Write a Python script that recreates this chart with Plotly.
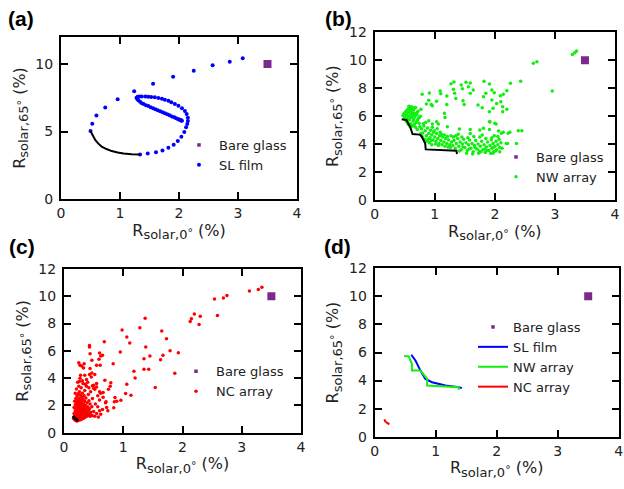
import plotly.graph_objects as go

# ---------------- data ----------------
bare_glass_x = [3.5]
bare_glass_y = [10.0]

# (a) SL film
sl_x = [3.08, 2.86, 2.57, 2.25, 1.90, 1.56, 1.24, 0.96, 0.75, 0.60, 0.53, 0.50,
        1.34, 1.47, 1.61, 1.72, 1.82, 1.91, 1.98, 2.04, 2.09, 2.12, 2.14, 2.15,
        2.15, 2.13, 2.10, 2.05, 1.99, 1.93, 1.87, 1.82, 1.76, 1.71, 1.65, 1.59,
        1.53, 1.48, 1.43, 1.37, 1.33, 1.30, 1.28, 1.29, 1.31, 1.34, 1.37, 1.40,
        1.44, 1.48, 1.52, 1.56, 1.60, 1.64, 1.68, 1.72, 1.76, 1.80, 1.84, 1.88,
        1.92, 1.95, 1.98, 2.00, 2.02, 2.03, 2.04, 2.05]
sl_y = [10.42, 10.17, 9.90, 9.50, 9.06, 8.54, 7.99, 7.39, 6.77, 6.18, 5.58, 5.04,
        3.30, 3.37, 3.47, 3.60, 3.80, 4.02, 4.29, 4.62, 4.96, 5.31, 5.55, 5.78,
        6.02, 6.30, 6.52, 6.72, 6.90, 7.04, 7.17, 7.27, 7.36, 7.43, 7.48, 7.53,
        7.56, 7.58, 7.59, 7.59, 7.59, 7.57, 7.50, 7.42, 7.32, 7.20, 7.10, 7.03,
        6.95, 6.88, 6.80, 6.73, 6.65, 6.57, 6.50, 6.42, 6.35, 6.27, 6.20, 6.12,
        6.05, 5.99, 5.93, 5.89, 5.85, 5.83, 5.81, 5.80]
sl_front_x = [0.50, 0.52, 0.55, 0.58, 0.63, 0.69, 0.77, 0.86, 0.96, 1.06, 1.20, 1.34]
sl_front_y = [5.04, 4.86, 4.60, 4.37, 4.12, 3.87, 3.70, 3.55, 3.45, 3.37, 3.32, 3.30]

# (b) NW array
nw_cluster = [(0.47, 6.05), (0.49, 6.20), (0.50, 5.95), (0.52, 6.35), (0.53, 6.10), (0.54, 5.85),
              (0.55, 6.50), (0.56, 6.25), (0.57, 6.00), (0.58, 6.60), (0.58, 5.75), (0.59, 6.40),
              (0.60, 6.15), (0.61, 5.90), (0.62, 6.55), (0.62, 6.30), (0.63, 6.05), (0.64, 5.65),
              (0.65, 6.45), (0.65, 5.80), (0.66, 6.20), (0.67, 5.95), (0.68, 6.62), (0.69, 5.55),
              (0.70, 6.10), (0.71, 5.70), (0.72, 6.35), (0.52, 5.70), (0.55, 5.55), (0.60, 5.45),
              (0.63, 5.30), (0.66, 5.40), (0.68, 5.20), (0.71, 5.05), (0.74, 5.50), (0.75, 5.25),
              (0.57, 6.70), (0.61, 6.68), (0.64, 6.60), (0.50, 5.80), (0.53, 5.60), (0.56, 5.40),
              (0.59, 5.25), (0.73, 5.85), (0.76, 6.00)]
nw_band = [(0.78, 5.10), (0.80, 4.80), (0.82, 5.30), (0.84, 4.95), (0.86, 4.60), (0.88, 5.15),
           (0.90, 4.75), (0.92, 4.45), (0.93, 5.00), (0.95, 4.65), (0.97, 4.30), (0.98, 4.85),
           (1.00, 4.50), (1.02, 4.20), (1.03, 4.75), (1.05, 4.40), (1.07, 4.05), (1.08, 4.60),
           (1.10, 4.25), (1.12, 3.95), (1.13, 4.50), (1.15, 4.15), (1.17, 3.85), (1.18, 4.40),
           (1.20, 4.05), (1.22, 3.80), (1.23, 4.30), (1.25, 3.95), (1.27, 4.60), (1.28, 4.15),
           (0.79, 4.55), (0.83, 4.35), (0.87, 4.20), (0.91, 4.10), (0.95, 3.95), (0.99, 4.95),
           (1.04, 5.10), (1.09, 4.85), (0.81, 5.45), (0.85, 5.55), (0.89, 4.35), (0.94, 4.25),
           (1.01, 4.00), (1.06, 3.90), (1.11, 4.70), (1.16, 4.65), (1.21, 4.55), (1.26, 3.75),
           (0.77, 4.75), (0.96, 5.20)]
nw_lower = [(1.30, 3.90), (1.32, 4.25), (1.34, 3.70), (1.36, 4.05), (1.38, 4.40), (1.40, 3.85),
            (1.42, 4.15), (1.44, 3.60), (1.46, 4.00), (1.48, 4.35), (1.50, 3.75), (1.52, 4.10),
            (1.54, 3.55), (1.56, 3.95), (1.58, 4.30), (1.60, 3.70), (1.62, 4.05), (1.64, 3.45),
            (1.66, 3.90), (1.68, 4.25), (1.70, 3.65), (1.72, 4.00), (1.74, 3.50), (1.76, 3.85),
            (1.78, 4.20), (1.80, 3.60), (1.82, 3.95), (1.84, 3.40), (1.86, 3.80), (1.88, 4.15),
            (1.90, 3.55), (1.92, 3.90), (1.94, 4.30), (1.95, 3.70), (1.97, 4.05), (1.98, 3.45),
            (2.00, 3.85), (2.02, 4.20), (2.03, 3.60), (2.05, 3.95), (2.07, 4.35), (2.08, 3.75),
            (2.10, 4.10), (1.35, 4.60), (1.45, 4.50), (1.55, 4.45), (1.65, 4.55), (1.75, 4.50),
            (1.85, 4.40), (1.95, 4.45), (2.05, 4.55), (1.41, 3.50), (1.53, 3.35), (1.63, 3.30),
            (1.73, 3.35), (1.83, 3.65), (1.93, 3.35), (2.01, 3.50), (2.12, 3.70), (1.47, 3.80),
            (1.57, 3.65), (1.67, 3.75), (1.77, 3.45), (1.87, 3.55), (1.97, 3.75), (1.31, 4.50),
            (1.39, 4.70), (1.59, 4.75), (1.79, 4.65), (1.99, 4.60), (2.21, 4.05), (2.36, 4.05),
            (2.19, 4.05), (2.08, 3.46), (1.97, 3.34)]
nw_upper = [(1.27, 8.32), (1.32, 8.44), (1.44, 8.23), (1.52, 8.42), (1.59, 8.37), (1.46, 7.96),
            (1.56, 8.11), (1.31, 7.92), (1.33, 7.63), (1.59, 7.63), (1.64, 7.87), (1.82, 8.49),
            (1.91, 8.30), (1.95, 7.87), (1.99, 7.68), (2.09, 7.46), (2.14, 7.56), (2.20, 7.82),
            (2.26, 8.35), (2.43, 8.49), (0.79, 7.56), (0.91, 7.65), (1.09, 7.80), (1.10, 7.60),
            (1.20, 7.44), (0.90, 7.13), (1.03, 7.06), (0.96, 6.75), (0.86, 6.87), (0.94, 6.84),
            (1.20, 6.84), (1.35, 7.27), (1.47, 7.10), (1.49, 6.84), (1.81, 7.39), (1.85, 7.63),
            (1.95, 7.15), (2.03, 6.91), (2.10, 7.03), (2.13, 6.68), (2.20, 6.49), (2.13, 6.32),
            (1.97, 6.56), (1.91, 6.32), (1.79, 6.60), (1.72, 6.80), (1.16, 6.20), (1.17, 5.91),
            (1.03, 5.60), (0.96, 5.44), (1.06, 5.44), (0.90, 5.67), (0.77, 6.49), (0.70, 6.20),
            (0.75, 5.96), (0.65, 6.15), (1.21, 5.24), (1.41, 5.08), (1.59, 5.05), (1.75, 5.01),
            (1.91, 5.60), (1.91, 5.05), (2.02, 5.44), (2.06, 4.94), (2.14, 4.84), (2.25, 4.84),
            (2.39, 4.96), (2.45, 4.96), (2.22, 4.77), (2.11, 4.77), (1.92, 5.60), (2.00, 5.49),
            (1.81, 5.13)]
nw_outliers = [(2.64, 9.78), (2.70, 9.89), (2.955, 7.80), (3.29, 10.42), (3.33, 10.54), (3.36, 10.66)]
nw_front_x = [0.45, 0.53, 0.56, 0.59, 0.63, 0.75, 0.78, 0.80, 0.84, 0.85, 1.03, 1.36, 1.37]
nw_front_y = [5.77, 5.72, 5.45, 5.25, 4.72, 4.68, 4.55, 4.41, 4.05, 3.62, 3.58, 3.53, 3.29]

# (c) NC array
nc_dense = [(0.16, 1.05), (0.17, 1.40), (0.17, 1.85), (0.18, 0.95), (0.18, 1.20), (0.18, 2.30),
            (0.19, 1.60), (0.19, 2.05), (0.19, 2.90), (0.20, 0.90), (0.20, 1.30), (0.20, 1.75),
            (0.20, 2.50), (0.21, 1.10), (0.21, 1.50), (0.21, 2.20), (0.21, 3.20), (0.22, 0.85),
            (0.22, 1.25), (0.22, 1.65), (0.22, 1.95), (0.22, 2.70), (0.23, 1.00), (0.23, 1.40),
            (0.23, 1.80), (0.23, 2.35), (0.23, 3.70), (0.24, 0.90), (0.24, 1.20), (0.24, 1.55),
            (0.24, 2.10), (0.24, 2.85), (0.25, 1.05), (0.25, 1.35), (0.25, 1.70), (0.25, 2.00),
            (0.25, 2.55), (0.25, 3.40), (0.26, 0.95), (0.26, 1.25), (0.26, 1.60), (0.26, 1.90),
            (0.26, 2.25), (0.26, 3.00), (0.27, 1.10), (0.27, 1.45), (0.27, 1.75), (0.27, 2.40),
            (0.27, 4.00), (0.28, 0.95), (0.28, 1.30), (0.28, 1.65), (0.28, 2.05), (0.28, 2.75),
            (0.29, 1.15), (0.29, 1.50), (0.29, 1.85), (0.29, 2.30), (0.29, 3.30), (0.30, 1.00),
            (0.30, 1.35), (0.30, 1.70), (0.30, 2.15), (0.30, 2.60), (0.31, 1.20), (0.31, 1.55),
            (0.31, 1.95), (0.31, 2.90), (0.32, 1.05), (0.32, 1.40), (0.32, 1.80), (0.32, 2.45),
            (0.32, 3.60), (0.33, 1.25), (0.33, 1.60), (0.33, 2.10), (0.34, 1.10), (0.34, 1.45),
            (0.34, 1.90), (0.34, 2.70), (0.35, 1.30), (0.35, 1.70), (0.35, 2.30), (0.35, 3.10),
            (0.36, 1.15), (0.36, 1.55), (0.36, 2.00), (0.37, 1.35), (0.37, 1.80), (0.37, 2.55),
            (0.38, 1.20), (0.38, 1.65), (0.38, 3.40), (0.39, 1.45), (0.39, 2.20), (0.40, 1.25),
            (0.40, 1.90), (0.41, 1.60), (0.41, 2.80), (0.42, 1.35), (0.42, 2.35), (0.43, 1.75),
            (0.44, 1.20), (0.44, 2.10), (0.45, 1.50), (0.45, 3.00), (0.46, 1.30), (0.47, 1.90),
            (0.48, 1.25), (0.48, 2.50), (0.50, 1.55), (0.50, 3.25), (0.52, 1.20), (0.53, 2.10),
            (0.55, 1.40), (0.57, 1.90), (0.58, 1.15), (0.60, 2.40), (0.62, 1.35), (0.65, 1.70),
            (0.66, 2.60), (0.70, 2.20), (0.72, 1.85)]
nc_mid = [(0.43, 6.40), (0.43, 6.28), (0.68, 6.67), (0.44, 5.79), (0.60, 5.85), (0.65, 5.67),
          (0.47, 5.31), (0.34, 5.06), (0.27, 4.94), (0.55, 4.94), (0.61, 4.94), (0.44, 4.70),
          (0.83, 5.06), (0.28, 4.21), (0.35, 4.21), (0.43, 4.26), (0.47, 4.38), (0.52, 4.26),
          (0.69, 3.84), (0.79, 3.67), (0.25, 5.13), (0.33, 4.74), (0.30, 4.89), (0.46, 4.09),
          (0.75, 3.19), (0.52, 3.19), (0.55, 3.60), (0.50, 3.48), (0.38, 3.90), (0.40, 3.70),
          (0.36, 3.55), (0.31, 3.80), (0.42, 3.30), (0.60, 3.00), (0.62, 2.90), (0.57, 2.70),
          (0.55, 3.35), (0.48, 3.45), (0.59, 5.38), (0.62, 5.62), (0.26, 3.75), (0.96, 2.38),
          (0.86, 2.58), (0.85, 2.26), (0.84, 1.82), (0.71, 2.26), (0.74, 1.61), (0.60, 1.61),
          (0.78, 3.40), (0.89, 2.30), (0.66, 2.95)]
nc_sparse = [(1.37, 8.39), (1.28, 7.69), (0.98, 7.52), (1.06, 7.01), (1.11, 6.57), (0.95, 5.91),
             (1.38, 6.28), (1.45, 5.62), (1.35, 5.43), (1.35, 4.65), (1.43, 4.65), (1.65, 7.45),
             (1.73, 6.89), (1.79, 6.01), (1.93, 5.86), (1.67, 5.67), (1.63, 5.35), (1.87, 4.36),
             (1.54, 3.31), (1.18, 4.50), (1.20, 4.01), (1.06, 3.55), (1.04, 2.87), (1.13, 2.75),
             (3.34, 10.66), (3.28, 10.49), (3.13, 10.39), (2.75, 10.05), (2.69, 9.88),
             (2.54, 9.81), (2.59, 8.59), (2.20, 8.71), (2.15, 8.35), (2.13, 8.15), (2.30, 8.54),
             (2.28, 7.93)]
nc_front_x = [0.16, 0.17, 0.20, 0.24]
nc_front_y = [1.25, 1.10, 1.00, 0.88]

# (d) Pareto fronts
d_sl_x = [0.60, 0.67, 0.75, 0.83, 0.94, 1.16, 1.38, 1.43]
d_sl_y = [5.84, 5.41, 4.71, 4.12, 3.88, 3.65, 3.53, 3.46]
d_nw_x = [0.48, 0.56, 0.61, 0.61, 0.75, 0.80, 0.86, 0.86, 1.16, 1.38, 1.38]
d_nw_y = [5.76, 5.72, 5.18, 4.71, 4.71, 4.47, 4.12, 3.65, 3.60, 3.53, 3.34]
d_nc_x = [0.16, 0.17, 0.20, 0.24]
d_nc_y = [1.25, 1.10, 1.00, 0.88]

x_ticks = [0, 1, 2, 3, 4]
y_ticks_a = [0, 5, 10]
y_ticks = [0, 2, 4, 6, 8, 10, 12]

# ---------------- colours ----------------
PURPLE = "#7B2A8C"
BLUE = "#0000FF"
GREEN = "#11EE11"
RED = "#FF0000"
TXT = "#222222"
FONT = "DejaVu Sans"

W, H = 624, 489


def px_x(p):
    return p / W


def px_y(p):
    return 1 - p / H


fig = go.Figure()


def pts(*groups):
    xs, ys = [], []
    for g in groups:
        for a, b in g:
            xs.append(a)
            ys.append(b)
    return xs, ys


def add_bare(xa, ya, leg):
    fig.add_trace(go.Scatter(x=bare_glass_x, y=bare_glass_y, mode="markers",
                             marker=dict(symbol="square", size=8, color=PURPLE),
                             xaxis=xa, yaxis=ya, showlegend=False))
    fig.add_trace(go.Scatter(x=[None], y=[None], mode="markers", name="Bare glass",
                             marker=dict(symbol="square", size=3.5, color=PURPLE),
                             xaxis=xa, yaxis=ya, legend=leg, showlegend=True))


# (a)
add_bare("x", "y", "legend")
fig.add_trace(go.Scatter(x=sl_x, y=sl_y, mode="markers", name="SL film",
                         marker=dict(size=4, color=BLUE), xaxis="x", yaxis="y", legend="legend"))
fig.add_trace(go.Scatter(x=sl_front_x, y=sl_front_y, mode="lines", line=dict(color="black", width=2),
                         xaxis="x", yaxis="y", showlegend=False))

# (b)
add_bare("x2", "y2", "legend2")
nx, ny = pts(nw_cluster, nw_band, nw_lower, nw_upper, nw_outliers)
fig.add_trace(go.Scatter(x=nx, y=ny, mode="markers", name="NW array",
                         marker=dict(size=3.5, color=GREEN), xaxis="x2", yaxis="y2", legend="legend2"))
fig.add_trace(go.Scatter(x=nw_front_x, y=nw_front_y, mode="lines", line=dict(color="black", width=2),
                         xaxis="x2", yaxis="y2", showlegend=False))

# (c)
add_bare("x3", "y3", "legend3")
cx, cy = pts(nc_dense, nc_mid, nc_sparse)
fig.add_trace(go.Scatter(x=cx, y=cy, mode="markers", name="NC array",
                         marker=dict(size=3.5, color=RED), xaxis="x3", yaxis="y3", legend="legend3"))
fig.add_trace(go.Scatter(x=nc_front_x, y=nc_front_y, mode="lines", line=dict(color="black", width=3),
                         xaxis="x3", yaxis="y3", showlegend=False))

# (d)
add_bare("x4", "y4", "legend4")
fig.add_trace(go.Scatter(x=d_sl_x, y=d_sl_y, mode="lines", name="SL film",
                         line=dict(color=BLUE, width=2), xaxis="x4", yaxis="y4", legend="legend4"))
fig.add_trace(go.Scatter(x=d_nw_x, y=d_nw_y, mode="lines", name="NW array",
                         line=dict(color=GREEN, width=2), xaxis="x4", yaxis="y4", legend="legend4"))
fig.add_trace(go.Scatter(x=d_nc_x, y=d_nc_y, mode="lines", name="NC array",
                         line=dict(color=RED, width=2), xaxis="x4", yaxis="y4", legend="legend4"))

DEG = '<span style="font-size:11px">°</span>'
XT = 'R<sub><span style="font-size:13px">solar,0</span></sub>' + DEG + " (%)"
YT = 'R<sub><span style="font-size:13px">solar,65</span></sub>' + DEG + " (%)"


def axis(dom, ticks, title, anchor, standoff, lblstand):
    return dict(domain=dom, range=[0, 4 if ticks is x_ticks else 12],
                tickvals=ticks, ticktext=[str(t) for t in ticks],
                ticks="inside", ticklen=7, tickwidth=2, tickcolor="black",
                showline=True, linewidth=2, linecolor="black", mirror="allticks",
                showgrid=False, zeroline=False, anchor=anchor, automargin=False,
                tickfont=dict(family=FONT, size=14, color=TXT),
                ticklabelstandoff=lblstand,
                title=dict(text=title, font=dict(family=FONT, size=16, color=TXT), standoff=standoff))


dom_a = ([px_x(61), px_x(297)], [px_y(199), px_y(37)])
dom_b = ([px_x(374.7), px_x(615)], [px_y(200), px_y(32.3)])
dom_c = ([px_x(64), px_x(301)], [px_y(432.7), px_y(269)])
dom_d = ([px_x(374.7), px_x(618.7)], [px_y(436.7), px_y(268.3)])

leg_common = dict(bgcolor="rgba(0,0,0,0)", borderwidth=0, xanchor="left", yanchor="top",
                  font=dict(family=FONT, size=13, color=TXT), itemwidth=30, tracegroupgap=0)

fig.update_layout(
    width=W, height=H, margin=dict(l=0, r=0, t=0, b=0),
    paper_bgcolor="white", plot_bgcolor="white",
    xaxis=axis(dom_a[0], x_ticks, XT, "y", 4, 0),
    yaxis=axis(dom_a[1], y_ticks_a, YT, "x", 6, 3),
    xaxis2=axis(dom_b[0], x_ticks, XT, "y2", 4, 0),
    yaxis2=axis(dom_b[1], y_ticks, YT, "x2", 6, 3),
    xaxis3=axis(dom_c[0], x_ticks, XT, "y3", 4, 0),
    yaxis3=axis(dom_c[1], y_ticks, YT, "x3", 6, 3),
    xaxis4=axis(dom_d[0], x_ticks, XT, "y4", 4, 0),
    yaxis4=axis(dom_d[1], y_ticks, YT, "x4", 6, 3),
    legend=dict(x=px_x(179), y=px_y(130), **leg_common),
    legend2=dict(x=px_x(496), y=px_y(142), **leg_common),
    legend3=dict(x=px_x(176), y=px_y(356.4), **leg_common),
    legend4=dict(x=px_x(473), y=px_y(312), **leg_common),
)

labels = [("(a)", 21, 18.5), ("(b)", 338, 18), ("(c)", 22, 246.5), ("(d)", 337.5, 246.5)]
for txt, lx, ly in labels:
    fig.add_annotation(text="<b>%s</b>" % txt, x=px_x(lx), y=px_y(ly), xref="paper", yref="paper",
                       xanchor="center", yanchor="middle", showarrow=False,
                       font=dict(family="Liberation Sans", size=21, color="black"))

fig.write_html("out.html", config={"displayModeBar": False},
               post_script="document.body.style.margin='0px';document.body.style.overflow='hidden';")
